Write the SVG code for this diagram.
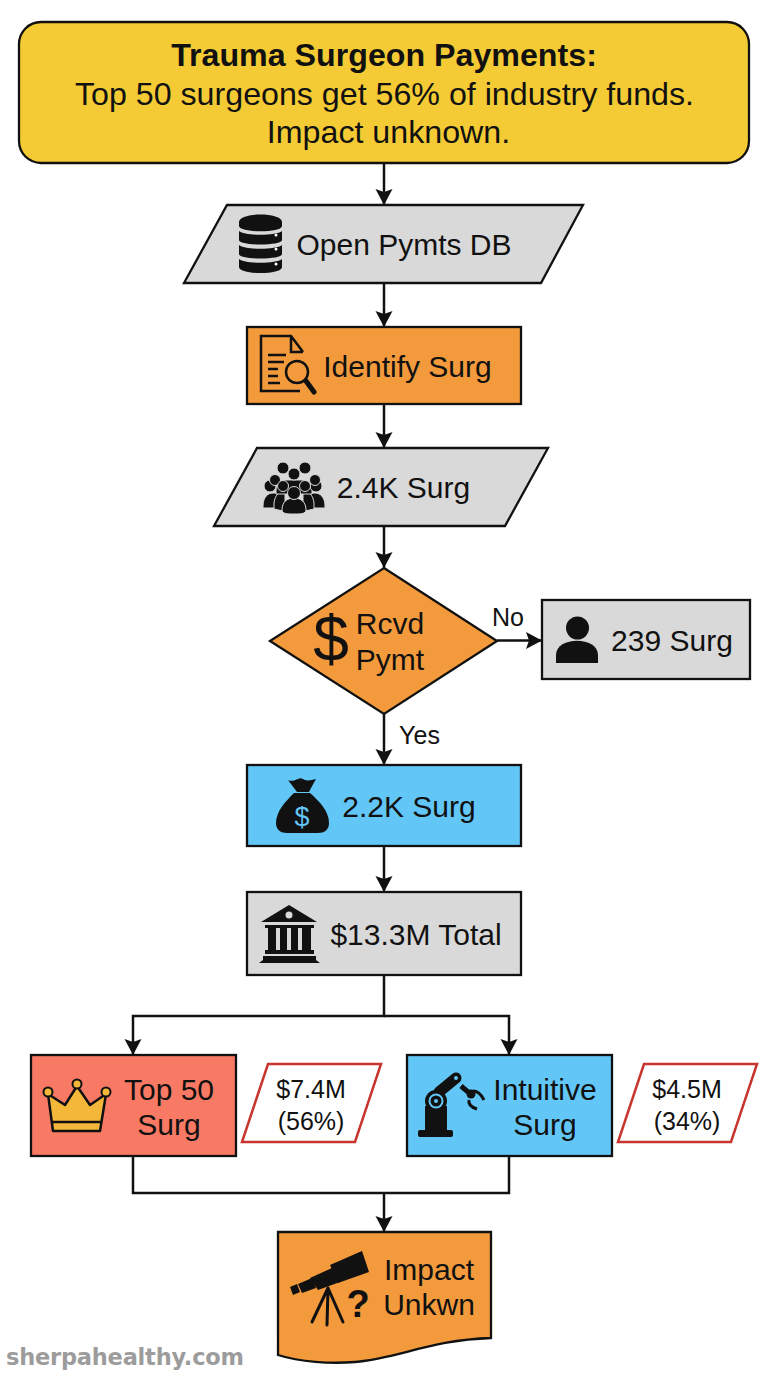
<svg xmlns="http://www.w3.org/2000/svg" width="768" height="1376" viewBox="0 0 768 1376">
<style>
.t{font-family:"Liberation Sans",Arial,sans-serif;font-size:30px;fill:#111;text-anchor:middle}
.h{font-size:32.200px}
.l{font-size:25px}
.s{stroke:#111;stroke-width:2.300;stroke-linejoin:miter}
.gray{fill:#D9D9D9}.or{fill:#F39A3C}.bl{fill:#62C6F6}
.note{fill:#fff;stroke:#C8342E;stroke-width:2.500}
.c{fill:none;stroke:#111;stroke-width:2.500}
.k{fill:#111}
.w{fill:none;stroke:#111}
</style>
<defs>
<marker id="a" markerUnits="userSpaceOnUse" markerWidth="18" markerHeight="18" refX="16" refY="8.500" orient="auto"><path d="M0 0L16 8.500L0 17L3 8.500Z" fill="#111"/></marker>
</defs>
<rect width="768" height="1376" fill="#fff"/>
<g id="connectors">
<path class="c" d="M384 163V205" marker-end="url(#a)"/>
<path class="c" d="M384 283V327" marker-end="url(#a)"/>
<path class="c" d="M384 404V448" marker-end="url(#a)"/>
<path class="c" d="M384 526V568" marker-end="url(#a)"/>
<path class="c" d="M497 640.500H542" marker-end="url(#a)"/>
<path class="c" d="M384 714V765" marker-end="url(#a)"/>
<path class="c" d="M384 846V892" marker-end="url(#a)"/>
<path class="c" d="M384 975V1016H133V1055" marker-end="url(#a)"/>
<path class="c" d="M384 1016H509V1055" marker-end="url(#a)"/>
<path class="c" d="M133 1156V1193H509V1156"/>
<path class="c" d="M384 1193V1232" marker-end="url(#a)"/>
<text class="t l" x="508" y="626">No</text>
<text class="t l" x="419.500" y="744">Yes</text>
</g>
<g id="title">
<rect class="s" x="19" y="22" width="730" height="141" rx="22" fill="#F4CB34"/>
<text class="t h" x="384" y="66" style="font-weight:bold">Trauma Surgeon Payments:</text>
<text class="t h" x="384.500" y="105">Top 50 surgeons get 56% of industry funds.</text>
<text class="t h" x="388.500" y="143">Impact unknown.</text>
</g>
<g id="open-pymts">
<path class="s gray" d="M227 205H583L541 283H184Z"/>
<g class="k">
<path d="M239 222c0-10 43-10 43 0v4c0 7-43 7-43 0Z"/>
<path d="M239 231c6 5 37 5 43 0v9c0 6-43 6-43 0Z"/>
<path d="M239 245c6 5 37 5 43 0v9c0 6-43 6-43 0Z"/>
<path d="M239 259c6 5 37 5 43 0v8c0 8-43 8-43 0Z"/>
</g>
<g fill="#fff"><circle cx="276" cy="235" r="1.500"/><circle cx="276" cy="249" r="1.500"/><circle cx="276" cy="264" r="1.500"/></g>
<text class="t" x="404" y="255">Open Pymts DB</text>
</g>
<g id="identify">
<rect class="s or" x="247" y="327" width="274" height="77"/>
<path class="w" stroke-width="2.500" d="M303 352L291 336H261V391H300M291 336V352H303"/>
<path class="w" stroke-width="2.500" d="M268 355H286M268 362H284M268 369H278M268 376H278M268 383H280"/>
<circle class="w" stroke-width="2.500" cx="297" cy="372" r="11"/>
<path class="w" stroke-width="5" stroke-linecap="round" d="M306 381L314 392"/>
<text class="t" x="407.500" y="377">Identify Surg</text>
</g>
<g id="surg-2-4k">
<path class="s gray" d="M257 448H548L505 526H214Z"/>
<g class="k" stroke="#D9D9D9" stroke-width="1">
<path d="M263 506c0-9 5-13 10-13s7 2 9 6v9H263Z"/><path d="M325 506c0-9-5-13-10-13s-7 2-9 6v9H325Z"/>
<path d="M274 503c1-8 5-12 11-11v16l-2 3-9-2Z"/><path d="M314 503c-1-8-5-12-11-11v16l2 3 9-2Z"/>
<path d="M276 490c0-7 6-10 10-10h16c4 0 10 3 10 10v4H276Z"/>
<circle cx="270" cy="486" r="6"/><circle cx="316" cy="486" r="6"/>
<circle cx="283" cy="468" r="6"/><circle cx="305" cy="468" r="6"/>
<circle cx="275" cy="480" r="5.500"/><circle cx="315" cy="480" r="5.500"/>
<circle cx="294" cy="474" r="6"/>
<circle cx="283" cy="486" r="5.500"/><circle cx="305" cy="486" r="5.500"/>
<path d="M282 510c0-8 5-12 12-12s12 4 12 12c0 4-6 4-12 4s-12 0-12-4Z"/>
<circle cx="294" cy="493" r="6.500"/>
</g>
<text class="t" x="403.500" y="498">2.4K Surg</text>
</g>
<g id="rcvd-pymt">
<path class="s or" d="M384 568L497 641L384 714L270 641Z"/>
<text class="t" x="331" y="661" style="font-size:64px">$</text>
<text class="t" x="390" y="634">Rcvd</text>
<text class="t" x="390" y="670">Pymt</text>
</g>
<g id="surg-239">
<rect class="s gray" x="542" y="600" width="208" height="79"/>
<g class="k"><circle cx="577.500" cy="628" r="11.500"/><path d="M556 663V655c0-19 42-19 42 0V663Z"/></g>
<text class="t" x="672" y="651">239 Surg</text>
</g>
<g id="surg-2-2k">
<rect class="s bl" x="247" y="765" width="274" height="81"/>
<path class="k" d="M288 780c4 2 7 0 10-1 3-2 5 0 7 1 3 1 7 0 11-1l-5 9-2 4h-12l-3-4Z"/>
<path class="k" d="M294 793h16c9 8 19 18 19 30 0 7-5 10-11 10H287c-6 0-11-3-11-10 0-12 10-22 18-30Z"/>
<text x="302" y="826" text-anchor="middle" style="font-family:'Liberation Sans',sans-serif;font-size:27px;fill:#62C6F6">$</text>
<text class="t" x="409" y="817">2.2K Surg</text>
</g>
<g id="total">
<rect class="s gray" x="247" y="892" width="274" height="83"/>
<path class="k" d="M289 905L317 922H261Z"/>
<circle cx="289" cy="915" r="3.500" fill="#D9D9D9"/>
<path class="k" d="M265 925H314V928H311V950H314V954H265V950H268V928H265ZM276 928V950H280V928ZM287 928V950H291V928ZM298 928V950H302V928Z" fill-rule="evenodd"/>
<path class="k" d="M263 956H316V960L320 963H259L263 960Z"/>
<text class="t" x="416" y="945">$13.3M Total</text>
</g>
<g id="top50">
<rect class="s" x="31" y="1055" width="205" height="101" fill="#F87A64"/>
<path d="M48 1094L65 1105L77 1086L90 1105L106 1094L100 1131H53Z" fill="#F4B73A" stroke="#111" stroke-width="2.500" stroke-linejoin="round"/>
<path d="M52 1122H101" stroke="#111" stroke-width="2.500"/>
<g fill="#F4B73A" stroke="#111" stroke-width="2"><circle cx="48" cy="1092" r="4.500"/><circle cx="77" cy="1084" r="4.500"/><circle cx="106" cy="1092" r="4.500"/></g>
<text class="t" x="169" y="1100">Top 50</text>
<text class="t" x="169" y="1135">Surg</text>
</g>
<g id="note-top50">
<path class="note" d="M268 1064H381L355 1142H242Z"/>
<text class="t l" x="311" y="1098">$7.4M</text>
<text class="t l" x="311" y="1130">(56%)</text>
</g>
<g id="intuitive">
<rect class="s bl" x="407" y="1055" width="205" height="101"/>
<g class="k">
<rect x="418" y="1130" width="35" height="7" rx="2"/>
<path d="M425 1106H447V1130H425Z"/>
</g>
<path class="w" stroke-width="11" stroke-linecap="round" d="M439 1092L456 1078"/>
<circle cx="436" cy="1101" r="11" fill="#111"/>
<circle cx="436" cy="1101" r="7.500" fill="#62C6F6"/><circle cx="436" cy="1101" r="5.500" fill="#111"/><circle cx="436" cy="1101" r="2" fill="#62C6F6"/>
<circle cx="456" cy="1078" r="2" fill="#62C6F6"/>
<path class="w" stroke-width="5" d="M461 1086L468 1092"/>
<circle class="k" cx="471" cy="1094" r="4.500"/>
<path class="w" stroke-width="3" d="M473 1091C478 1091 481 1094 484 1100M469 1100C468 1104 471 1107 477 1109"/>
<text class="t" x="545" y="1100">Intuitive</text>
<text class="t" x="545" y="1135">Surg</text>
</g>
<g id="note-intuitive">
<path class="note" d="M644 1064H757L731 1142H618Z"/>
<text class="t l" x="687" y="1098">$4.5M</text>
<text class="t l" x="687" y="1130">(34%)</text>
</g>
<g id="impact">
<path class="s or" d="M278 1232H491V1338C430 1340 400 1358 355 1362C330 1364 300 1362 278 1355Z"/>
<g class="k">
<path d="M330 1265L362 1251L369 1272L338 1283Z"/>
<path d="M310 1278L332 1268L340 1282L318 1290Z"/>
<path d="M298 1284L312 1278L316 1288L302 1293Z"/>
<path d="M290 1287L297 1284L300 1292L293 1295Z"/>
</g>
<path class="w" stroke-width="3" stroke-linecap="round" d="M328 1288L312 1322M328 1288L327 1325M328 1288L343 1322"/>
<text x="358" y="1317" text-anchor="middle" style="font-family:'Liberation Sans',sans-serif;font-weight:bold;font-size:38px;fill:#111">?</text>
<text class="t" x="429" y="1280">Impact</text>
<text class="t" x="429" y="1315">Unkwn</text>
</g>
<text x="6" y="1365" style="font-family:'DejaVu Sans',sans-serif;font-weight:bold;font-size:22.500px;fill:#9C9C9C" textLength="238">sherpahealthy.com</text>
</svg>
